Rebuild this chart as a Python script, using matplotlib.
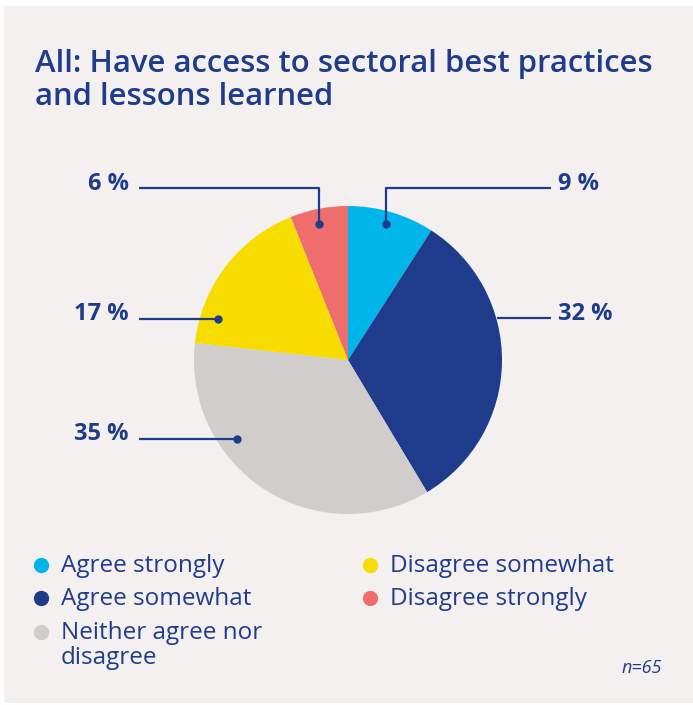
import matplotlib
matplotlib.use("Agg")
import matplotlib.pyplot as plt
from matplotlib.patches import Rectangle

# data
categories = ["Agree strongly", "Agree somewhat", "Neither agree nor\ndisagree",
              "Disagree somewhat", "Disagree strongly"]
values = [9, 32, 35, 17, 6]
colors = ["#00b5ea", "#1f3c8c", "#d1cdcc", "#f7dc00", "#ee6e6e"]
title = "All: Have access to sectoral best practices\nand lessons learned"
note = "n=65"

navy = "#1f3c8c"
bg = "#f4f0ef"
W, H = 693, 705

plt.rcParams["font.family"] = ["Open Sans", "DejaVu Sans"]

fig = plt.figure(figsize=(W / 100, H / 100), dpi=100)
fig.patch.set_facecolor("white")

# background panel
bax = fig.add_axes([0, 0, 1, 1], zorder=0)
bax.set_xlim(0, W)
bax.set_ylim(H, 0)
bax.axis("off")
bax.add_patch(Rectangle((4, 6), W - 4, H - 8, facecolor=bg, edgecolor="none"))

# pie (in its own axes so y is not flipped)
cx, cy, r = 348, 360, 154
pax = fig.add_axes([(cx - r) / W, 1 - (cy + r) / H, 2 * r / W, 2 * r / H], zorder=1)
wedges, _ = pax.pie(values, colors=colors, startangle=90, counterclock=False,
                    wedgeprops=dict(linewidth=0))
pax.set_xlim(-1, 1)
pax.set_ylim(-1, 1)
pax.set_aspect("equal")
pax.axis("off")

# overlay for texts and leader lines, in image pixels
ax = fig.add_axes([0, 0, 1, 1], zorder=2)
ax.set_xlim(0, W)
ax.set_ylim(H, 0)
ax.axis("off")

# title, one text per line so the baselines are exact
for i, line in enumerate(title.split("\n")):
    ax.text(35, 72 + 33 * i, line, color=navy, fontsize=22.4, fontweight="semibold",
            va="baseline", ha="left")

labels = [f"{v} %" for v in values]
line_kw = dict(color=navy, lw=1.6, solid_capstyle="butt")
lab_kw = dict(color=navy, fontsize=17, fontweight="bold", va="baseline")
# 9 %
ax.plot([386, 386, 551], [224, 188, 188], **line_kw)
ax.plot(386, 224, "o", color=navy, ms=5)
ax.text(558, 190, labels[0], ha="left", **lab_kw)
# 32 %
ax.plot([497, 551], [318, 318], **line_kw)
ax.text(558, 320, labels[1], ha="left", **lab_kw)
# 35 %
ax.plot([237, 139], [439, 439], **line_kw)
ax.plot(237, 439, "o", color=navy, ms=5)
ax.text(129, 440, labels[2], ha="right", **lab_kw)
# 17 %
ax.plot([218, 139], [319, 319], **line_kw)
ax.plot(218, 319, "o", color=navy, ms=5)
ax.text(129, 320, labels[3], ha="right", **lab_kw)
# 6 %
ax.plot([319, 319, 139], [224, 188, 188], **line_kw)
ax.plot(319, 224, "o", color=navy, ms=5)
ax.text(129, 190, labels[4], ha="right", **lab_kw)

# legend
leg_pos = [(41, 565), (41, 598), (41, 632), (370, 565), (370, 598)]
for (mx, my), lab, col in zip(leg_pos, categories, colors):
    ax.plot(mx, my, "o", color=col, ms=10)
    for j, part in enumerate(lab.split("\n")):
        ax.text(mx + 20, my + 7 + 25 * j, part, color=navy, fontsize=17.5,
                va="baseline", ha="left")

ax.text(662, 673, note, color=navy, fontsize=13, style="italic", va="baseline", ha="right")

fig.savefig("out.png", dpi=100, facecolor=fig.get_facecolor())
